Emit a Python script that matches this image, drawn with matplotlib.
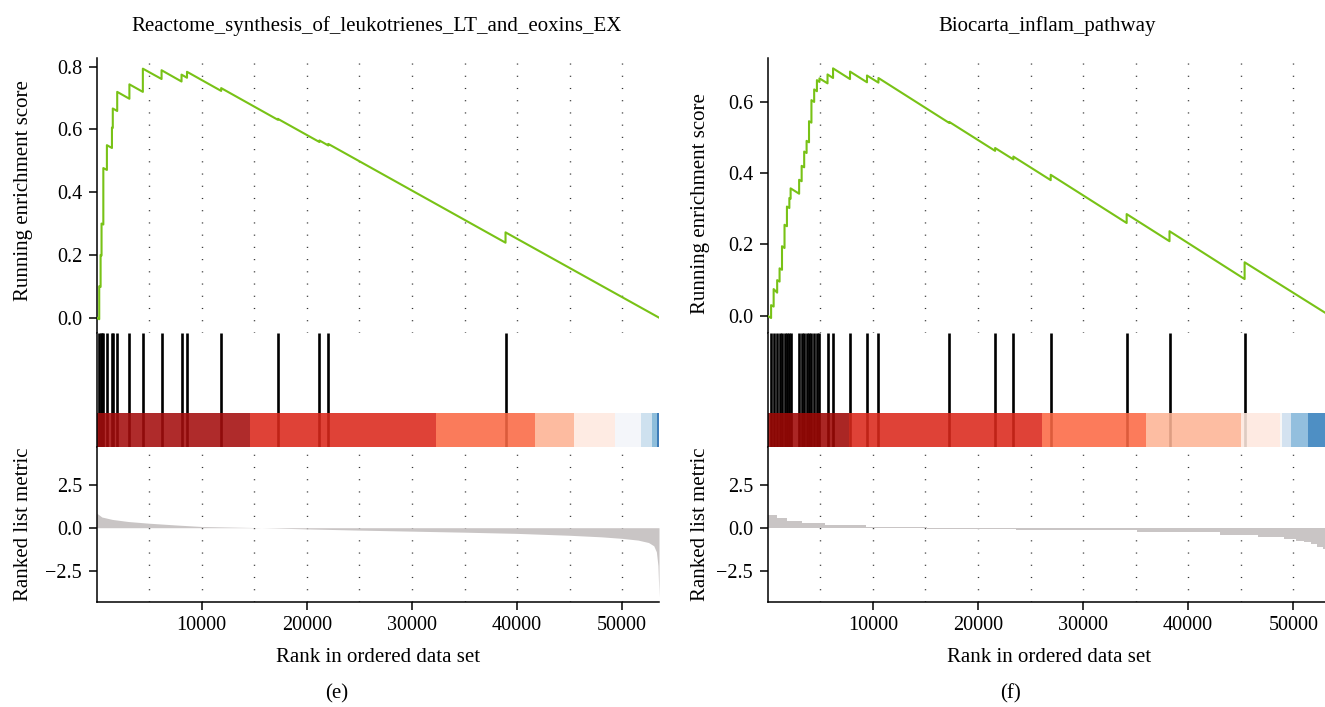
import numpy as np
import matplotlib
matplotlib.use('Agg')
from matplotlib import pyplot as plt
from matplotlib.colors import to_rgb

plt.rcParams['font.family'] = ['Liberation Serif', 'DejaVu Serif']

W, H = 1325, 707
n_genes = 53500

# ---- panel (e): Reactome synthesis of leukotrienes ----
left_title = 'Reactome_synthesis_of_leukotrienes_LT_and_eoxins_EX'
left_hits = [250, 380, 470, 640, 980, 1460, 1540, 1960, 3120, 4400, 6180, 8080, 8600,
             11850, 17240, 21200, 22040, 38900]
left_es_pre = [-0.005, 0.098, 0.198, 0.297, 0.471, 0.541, 0.605, 0.659, 0.698, 0.720,
               0.761, 0.753, 0.765, 0.723, 0.631, 0.560, 0.549, 0.239]
left_es_post = [0.100, 0.200, 0.300, 0.477, 0.550, 0.606, 0.667, 0.720, 0.744, 0.794,
                0.789, 0.775, 0.784, 0.732, 0.634, 0.565, 0.554, 0.272]
left_metric_rank = [1, 500, 1500, 3000, 5000, 7500, 10000, 15000, 17000, 20000, 25000,
                    30000, 35000, 40000, 45000, 48000, 50000, 51500, 52500, 53000,
                    53250, 53400, 53500]
left_metric = [0.85, 0.62, 0.48, 0.36, 0.26, 0.16, 0.07, 0.01, -0.02, -0.07, -0.14,
               -0.20, -0.26, -0.33, -0.44, -0.53, -0.62, -0.72, -0.86, -1.05,
               -1.4, -2.2, -4.0]
left_band_edges = [0, 14570, 32240, 41710, 45430, 49270, 51760, 52860, 53270, 53500]
left_band_colors = ['#AF2A2A', '#DF4236', '#FB7B5A', '#FDBBA0', '#FEECE4', '#F4F6FB',
                    '#CFE1EF', '#8EBEDC', '#3D7CB8']
left_es_ticks = [0.0, 0.2, 0.4, 0.6, 0.8]
left_es_lim = (-0.049, 0.828)

# ---- panel (f): Biocarta inflam pathway ----
right_title = 'Biocarta_inflam_pathway'
right_hits = [323, 565, 900, 1130, 1360, 1600, 1830, 2060, 2180, 2990, 3230, 3470, 3700,
              3930, 4160, 4420, 4682, 4924, 5691, 6216, 7831, 9445, 10535, 17275, 21635,
              23370, 26922, 34147, 38223, 45368]
right_es_pre = [-0.006, 0.026, 0.065, 0.096, 0.129, 0.190, 0.251, 0.302, 0.328, 0.342,
                0.377, 0.416, 0.456, 0.486, 0.541, 0.599, 0.629, 0.655, 0.651, 0.666,
                0.663, 0.654, 0.653, 0.540, 0.462, 0.438, 0.380, 0.260, 0.209, 0.103]
right_es_post = [0.030, 0.075, 0.100, 0.133, 0.195, 0.255, 0.306, 0.330, 0.357, 0.381,
                 0.420, 0.460, 0.490, 0.545, 0.604, 0.634, 0.660, 0.665, 0.676, 0.693,
                 0.684, 0.673, 0.666, 0.543, 0.470, 0.446, 0.395, 0.285, 0.237, 0.150]
right_metric_rank = [0, 850, 1850, 3270, 5490, 9320, 15180, 23650, 35160, 43030, 46660,
                     49080, 50290, 51000, 51700, 52300, 52800, 53100, 53300, 53500]
right_metric = [0.74, 0.55, 0.41, 0.29, 0.16, 0.06, -0.06, -0.15, -0.25, -0.40, -0.55,
                -0.68, -0.75, -0.85, -0.97, -1.10, -1.25, -1.45, -1.80, -1.80]
right_band_edges = [0, 7700, 26060, 35940, 45020, 48730, 48970, 49740, 51390, 53000, 53500]
right_band_colors = ['#AA2623', '#DF4236', '#FC7B5A', '#FDBDA2', '#FEEBE2', '#F7F7F7',
                     '#D3E3F0', '#93C0DE', '#4D8FC4', '#2C6AA8']
right_es_ticks = [0.0, 0.2, 0.4, 0.6]
right_es_lim = (-0.048, 0.722)

metric_ticks = [-2.5, 0.0, 2.5]
rank_ticks = [10000, 20000, 30000, 40000, 50000]
grid_x = list(range(5000, 55000, 5000))

es_color = '#78C216'
metric_color = '#C9C5C5'
band_alpha = 0.88
fs_tick = 14.5
fs_label = 15


def px_box(x0, y0, w, h):
    return [x0 / W, 1 - (y0 + h) / H, w / W, h / H]


def ftext(fig, x, y, s, **kw):
    fig.text(x / W, 1 - y / H, s, ha='center', va='center', **kw)


def draw_grid(ax):
    ax.vlines(grid_x, 0, 1, transform=ax.get_xaxis_transform(), color='#333333',
              lw=1.0, linestyles=(0, (0.8, 8.0)), zorder=0)


def style_axis(ax, bottom=False):
    for s in ['top', 'right']:
        ax.spines[s].set_visible(False)
    ax.spines['bottom'].set_visible(bottom)
    ax.spines['left'].set_linewidth(1.1)
    ax.spines['bottom'].set_linewidth(1.1)
    ax.tick_params(direction='out', length=5.5, width=1.1, labelsize=fs_tick, pad=5)
    ax.set_xlim(0, n_genes)
    if not bottom:
        ax.set_xticks([])


def draw_panel(fig, x0, hits, pre, post, m_rank, m_val, m_step, edges, colors,
               es_ticks, es_lim, title, title_x, label_x, run_y, tag_x, tag):
    width = 562.4
    # running enrichment score
    ax1 = fig.add_axes(px_box(x0, 58, width, 275))
    style_axis(ax1)
    draw_grid(ax1)
    xs = [0]
    ys = [0.0]
    for h, a, b in zip(hits, pre, post):
        xs += [h, h]
        ys += [a, b]
    xs.append(n_genes)
    ys.append(0.0)
    ax1.plot(xs, ys, color=es_color, lw=1.5, zorder=3)
    ax1.set_ylim(*es_lim)
    ax1.set_yticks(es_ticks)
    ax1.set_yticklabels([f'{t:.1f}' for t in es_ticks])

    # hits and colour band
    ax2 = fig.add_axes(px_box(x0, 333, width, 114))
    style_axis(ax2)
    ax2.set_ylim(0, 1)
    ax2.set_yticks([])
    ax2.vlines(hits, 0, 1, color='black', lw=1.9, zorder=1)
    band_top = 34.0 / 114
    for i, c in enumerate(colors):
        base = np.clip((np.array(to_rgb(c)) - (1 - band_alpha)) / band_alpha, 0, 1)
        ax2.fill_between([edges[i], edges[i + 1]], 0, band_top, color=base,
                         alpha=band_alpha, lw=0, zorder=2)

    # ranked list metric
    ax3 = fig.add_axes(px_box(x0, 447, width, 154.7))
    style_axis(ax3, bottom=True)
    draw_grid(ax3)
    if m_step:
        ax3.fill_between(m_rank, m_val, 0, step='post', color=metric_color, lw=0, zorder=2)
    else:
        ax3.fill_between(m_rank, m_val, 0, color=metric_color, lw=0, zorder=2)
    ax3.set_ylim(-4.30, 4.69)
    ax3.set_yticks(metric_ticks)
    ax3.set_xticks(rank_ticks)
    ax3.set_xticklabels([str(t) for t in rank_ticks])

    ftext(fig, title_x, 26, title, fontsize=fs_label)
    ftext(fig, label_x, run_y, 'Running enrichment score', rotation=90, fontsize=fs_label)
    ftext(fig, label_x, 524, 'Ranked list metric', rotation=90, fontsize=fs_label)
    ftext(fig, x0 + width / 2, 657, 'Rank in ordered data set', fontsize=fs_label)
    ftext(fig, tag_x, 694, tag, fontsize=fs_label)


fig = plt.figure(figsize=(W / 100, H / 100), dpi=100)

draw_panel(fig, 96.6, left_hits, left_es_pre, left_es_post, left_metric_rank, left_metric,
           False, left_band_edges, left_band_colors, left_es_ticks, left_es_lim,
           left_title, 377, 23.5, 191, 337, '(e)')
draw_panel(fig, 767.7, right_hits, right_es_pre, right_es_post, right_metric_rank,
           right_metric, True, right_band_edges, right_band_colors, right_es_ticks,
           right_es_lim, right_title, 1047, 700.5, 204, 1010, '(f)')

fig.savefig('out.png', dpi=100, facecolor='white')
